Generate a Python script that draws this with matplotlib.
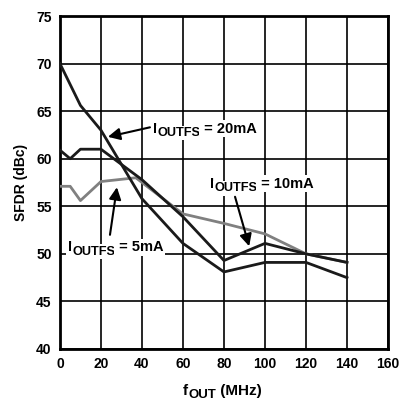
import matplotlib
matplotlib.use("Agg")
import matplotlib.pyplot as plt

plt.rcParams['font.family'] = ['Liberation Sans', 'DejaVu Sans']
plt.rcParams['font.weight'] = 'bold'

# SFDR vs output frequency, three full-scale currents
freq_20 = [0, 10, 20, 40, 60, 80, 100, 120, 140]
sfdr_20 = [70, 65.6, 63, 55.8, 51.1, 48.1, 49.1, 49.1, 47.5]

freq_10 = [0, 5, 10, 20, 40, 60, 80, 100, 120, 140]
sfdr_10 = [60.9, 60.0, 61, 61, 57.8, 53.9, 49.3, 51.1, 50.0, 49.1]

freq_5 = [0, 5, 10, 20, 37, 60, 80, 100, 120, 140]
sfdr_5 = [57.1, 57.1, 55.6, 57.6, 58.0, 54.2, 53.2, 52.1, 50.0, 49.1]

xticks = [0, 20, 40, 60, 80, 100, 120, 140, 160]
yticks = [40, 45, 50, 55, 60, 65, 70, 75]

fig = plt.figure(figsize=(4.05, 4.0), dpi=100)
ax = fig.add_axes([0.148, 0.1275, 0.81, 0.8325])

ax.plot(freq_5, sfdr_5, color='#808080', lw=2, zorder=3)
ax.plot(freq_10, sfdr_10, color='#1a1a1a', lw=2, zorder=4)
ax.plot(freq_20, sfdr_20, color='#1a1a1a', lw=2, zorder=4)

ax.set_xlim(0, 160)
ax.set_ylim(40, 75)
ax.set_xticks(xticks)
ax.set_yticks(yticks)
ax.tick_params(length=0, labelsize=10, pad=6)
for lab in ax.get_xticklabels() + ax.get_yticklabels():
    lab.set_fontweight('bold')
ax.grid(True, color='black', lw=1.2)
ax.set_axisbelow(True)
for s in ax.spines.values():
    s.set_linewidth(2)

ax.set_ylabel('SFDR (dBc)', fontsize=10, fontweight='bold', labelpad=6)


def sub_label(x, y, main, sub, rest, size, sub_size, coords, box=True):
    # main letter, bigger-than-mathtext subscript, then the rest on the main baseline
    bb = dict(facecolor='white', edgecolor='none', pad=1.5) if box else None
    bb2 = dict(facecolor='white', edgecolor='none', pad=1) if box else None
    t1 = ax.text(x, y, main, transform=coords, fontsize=size, fontweight='bold',
                 va='baseline', ha='left', bbox=bb, zorder=6, clip_on=False)
    t2 = ax.annotate(sub, xy=(1, 0), xycoords=t1, xytext=(0.2, -0.3),
                     textcoords='offset points', fontsize=sub_size, fontweight='bold',
                     va='baseline', ha='left', bbox=bb2, zorder=6, annotation_clip=False)
    t3 = ax.annotate(rest, xy=(1, 0), xycoords=(t2, t1), fontsize=size,
                     fontweight='bold', va='bottom', ha='left', bbox=bb2, zorder=6,
                     annotation_clip=False)
    return t1, t2, t3


arrow = dict(arrowstyle='-|>', color='black', lw=1.5, mutation_scale=18,
             shrinkA=0, shrinkB=0)

sub_label(45.4, 62.75, 'I', 'OUTFS', ' = 20mA', 10.5, 9.2, ax.transData)
ax.annotate('', xy=(23.4, 62.3), xytext=(43.9, 63.3), arrowprops=arrow, zorder=6)

sub_label(73.0, 56.95, 'I', 'OUTFS', ' = 10mA', 10.5, 9.2, ax.transData)
ax.annotate('', xy=(92.3, 50.8), xytext=(85.4, 56.0), arrowprops=arrow, zorder=6)

sub_label(3.9, 50.25, 'I', 'OUTFS', ' = 5mA', 10.5, 9.2, ax.transData)
ax.annotate('', xy=(27.8, 57.0), xytext=(24.4, 52.0), arrowprops=arrow, zorder=6)

# x axis label with a full-size-ish subscript
sub_label(0.375, -0.138, 'f', 'OUT', ' (MHz)', 11, 9.5, ax.transAxes, box=False)

fig.savefig('out.png', dpi=100)
